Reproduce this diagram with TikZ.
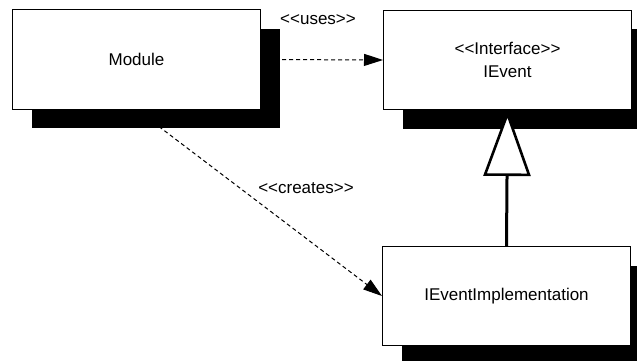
\documentclass[tikz,border=0pt]{standalone}
\usepackage{fontspec}
\setmainfont{Liberation Sans}[Ligatures=TeXOff]
\usetikzlibrary{arrows.meta,shadows}
\begin{document}
\begin{tikzpicture}[x=1pt,y=-1pt,
  every node/.style={font=\fontsize{17}{23}\selectfont},
  classbox/.style={draw=black,line width=1pt,fill=white,inner sep=0pt,
    minimum width=248pt,minimum height=99pt,align=center,
    drop shadow={shadow xshift=19pt,shadow yshift=-19pt,fill=black,opacity=1}},
  depends/.style={line width=1pt,dash pattern=on 4pt off 3pt,
    -{Triangle[length=19pt,width=12pt]}},
  realizes/.style={line width=3pt,
    -{Triangle[length=66pt,width=47pt,fill=white,line width=2.6pt]}},
  tag/.style={inner sep=0pt}]
  \clip (0,0) rectangle (637,361);
  \useasboundingbox (0,0) rectangle (637,361);
  \fill[white] (0,0) rectangle (637,361);

  % classes
  \node[classbox] (mod)  at (136.5,59.5) {Module};
  \node[classbox] (iev)  at (507.5,60)   {<<Interface>>\\IEvent};
  \node[classbox] (impl) at (506.5,296)  {IEventImplementation};

  % relations
  \draw[depends] (mod.east) -- (iev.west);
  \draw[depends] (mod.south) -- (impl.west);
  \draw[realizes] (impl.north) -- (iev.south);

  % stereotype labels
  \node[tag] (usesLbl)    at (318,20)  {<<uses>>};
  \node[tag] (createsLbl) at (306,188) {<<creates>>};
\end{tikzpicture}
\end{document}
